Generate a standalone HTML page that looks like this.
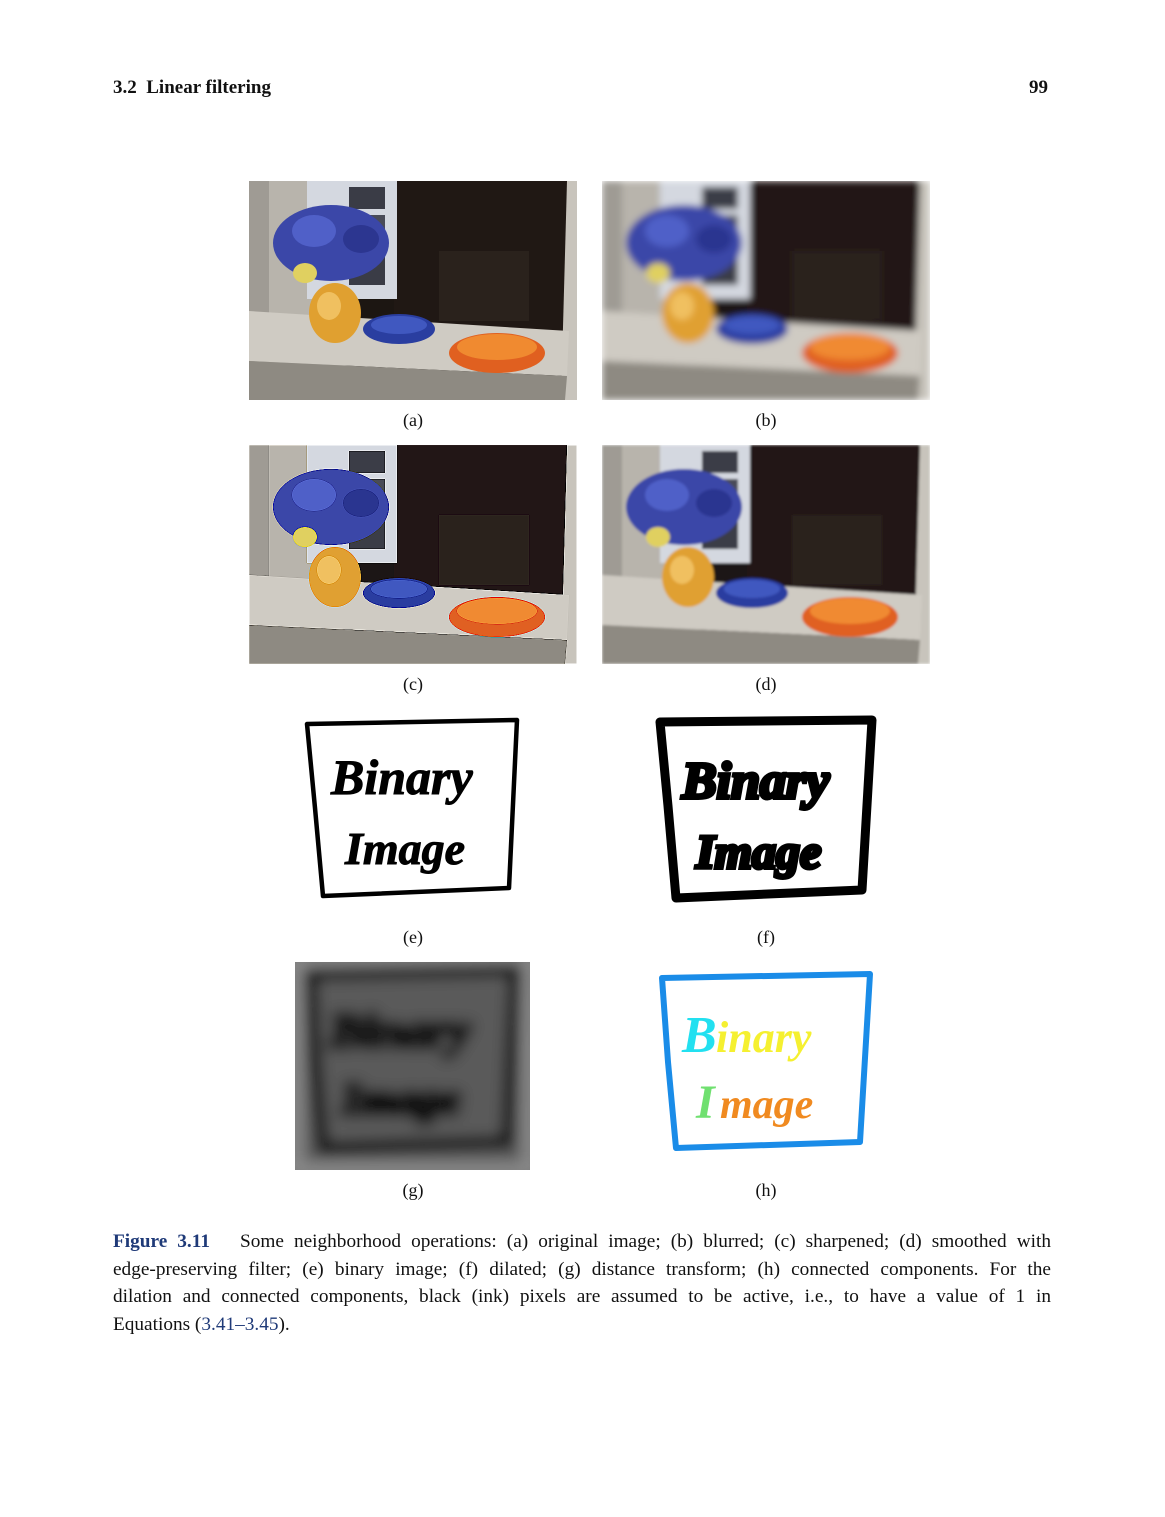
<!DOCTYPE html>
<html><head><meta charset="utf-8">
<style>
html,body{margin:0;padding:0;background:#fff;}
body{width:1165px;height:1517px;position:relative;font-family:"Liberation Serif",serif;color:#111;overflow:hidden;}
.abs{position:absolute;}
.lbl{position:absolute;font-size:18px;width:60px;text-align:center;}
.cap{position:absolute;left:113px;width:938px;font-size:19.3px;line-height:27.7px;top:1228px;}
.cap div{text-align:justify;text-align-last:justify;white-space:nowrap;}
.cap div.last{text-align-last:left;}
.blue{color:#1f3a78;}
</style></head>
<body>
<div class="abs" style="left:113px;top:77px;font-size:19px;font-weight:bold;">3.2&nbsp; Linear filtering</div>
<div class="abs" style="left:1029px;top:77px;font-size:19px;font-weight:bold;">99</div>

<svg width="0" height="0" style="position:absolute">
<defs>
<filter id="blur"><feGaussianBlur stdDeviation="3.5"/></filter>
<filter id="smooth"><feGaussianBlur stdDeviation="1.2"/></filter>
<filter id="sharp"><feConvolveMatrix order="3" kernelMatrix="0 -1 0 -1 5 -1 0 -1 0"/></filter>
<filter id="dt"><feGaussianBlur stdDeviation="7"/></filter>
</defs></svg>

<div class="abs" style="left:249px;top:181px;" id="pa"></div>
<div class="abs" style="left:602px;top:181px;" id="pb"></div>
<div class="abs" style="left:249px;top:445px;" id="pc"></div>
<div class="abs" style="left:602px;top:445px;" id="pd"></div>

<div class="lbl" style="left:383px;top:410px;">(a)</div>
<div class="lbl" style="left:736px;top:410px;">(b)</div>
<div class="lbl" style="left:383px;top:674px;">(c)</div>
<div class="lbl" style="left:736px;top:674px;">(d)</div>

<svg class="abs" style="left:295px;top:712px" width="240" height="200">
<path d="M12 12 L222 8 L214 176 L28 184 L20 96 Z" fill="none" stroke="#000" stroke-width="4.5" stroke-linejoin="round"/>
<text x="36" y="82" font-family="Liberation Serif" font-style="italic" font-weight="bold" font-size="50" fill="#000" stroke="#000" stroke-width="1">Binary</text>
<text x="50" y="152" font-family="Liberation Serif" font-style="italic" font-weight="bold" font-size="46" fill="#000" stroke="#000" stroke-width="1">Image</text>
</svg>
<svg class="abs" style="left:648px;top:710px" width="240" height="200">
<path d="M12 12 L224 10 L214 180 L28 188 L20 96 Z" fill="none" stroke="#000" stroke-width="9" stroke-linejoin="round"/>
<text x="34" y="88" font-family="Liberation Serif" font-style="italic" font-weight="bold" font-size="52" fill="#000" stroke="#000" stroke-width="4">Binary</text>
<text x="48" y="158" font-family="Liberation Serif" font-style="italic" font-weight="bold" font-size="48" fill="#000" stroke="#000" stroke-width="4">Image</text>
</svg>
<div class="lbl" style="left:383px;top:927px;">(e)</div>
<div class="lbl" style="left:736px;top:927px;">(f)</div>

<svg class="abs" style="left:295px;top:962px" width="235" height="208">
<rect width="235" height="208" fill="#6a6a6a"/>
<g filter="url(#dt)">
<rect x="12" y="10" width="211" height="188" fill="#5a5a5a"/>
<rect width="235" height="208" fill="none" stroke="#8a8a8a" stroke-width="14"/>
<path d="M16 12 L220 8 L212 180 L28 186 L20 96 Z" fill="none" stroke="#000" stroke-width="12"/>
<text x="34" y="85" font-family="Liberation Serif" font-style="italic" font-weight="bold" font-size="50" fill="#000" stroke="#000" stroke-width="5">Binary</text>
<text x="46" y="152" font-family="Liberation Serif" font-style="italic" font-weight="bold" font-size="46" fill="#000" stroke="#000" stroke-width="5">Image</text>
</g>
</svg>
<svg class="abs" style="left:650px;top:966px" width="230" height="194">
<path d="M12 12 L220 8 L210 176 L26 182 L18 96 Z" fill="none" stroke="#1a8ce8" stroke-width="6" stroke-linejoin="round"/>
<text x="32" y="86" font-family="Liberation Serif" font-style="italic" font-weight="bold" font-size="52" fill="#22e0f0">B</text>
<text x="66" y="86" font-family="Liberation Serif" font-style="italic" font-weight="bold" font-size="44" fill="#f5f030">inary</text>
<text x="46" y="152" font-family="Liberation Serif" font-style="italic" font-weight="bold" font-size="48" fill="#70e070">I</text>
<text x="70" y="152" font-family="Liberation Serif" font-style="italic" font-weight="bold" font-size="42" fill="#f08a20">mage</text>
</svg>
<div class="lbl" style="left:383px;top:1180px;">(g)</div>
<div class="lbl" style="left:736px;top:1180px;">(h)</div>

<div class="cap">
<div><b class="blue">Figure 3.11</b>&nbsp;&nbsp; Some neighborhood operations: (a) original image; (b) blurred; (c) sharpened; (d) smoothed with</div>
<div>edge-preserving filter; (e) binary image; (f) dilated; (g) distance transform; (h) connected components. For the</div>
<div>dilation and connected components, black (ink) pixels are assumed to be active, i.e., to have a value of 1 in</div>
<div class="last">Equations (<span class="blue">3.41–3.45</span>).</div>
</div>

<script>
function scene(filter){
 return '<svg width="328" height="219" viewBox="0 0 328 219"><g'+(filter?' filter="url(#'+filter+')"':'')+'>'+
 '<rect width="328" height="219" fill="#1c1612"/>'+
 '<rect x="145" y="0" width="180" height="160" fill="#201814"/>'+
 '<rect x="190" y="70" width="90" height="70" fill="#2a221c"/>'+
 '<polygon points="318,0 328,0 328,219 312,219" fill="#c8c4bc"/>'+
 '<rect x="0" y="0" width="95" height="219" fill="#b8b4ac"/>'+
 '<rect x="0" y="0" width="20" height="219" fill="#9f9b94"/>'+
 '<rect x="58" y="0" width="90" height="118" fill="#d4d8e0"/>'+
 '<rect x="100" y="6" width="36" height="22" fill="#3a3c46"/>'+
 '<rect x="100" y="34" width="36" height="30" fill="#4a4c58"/>'+
 '<rect x="100" y="70" width="36" height="34" fill="#3a3c46"/>'+
 '<polygon points="0,130 320,150 318,195 0,180" fill="#cfcbc3"/>'+
 '<polygon points="0,180 318,195 316,219 0,219" fill="#8e8a82"/>'+
 '<ellipse cx="82" cy="62" rx="58" ry="38" fill="#3b47a8"/>'+
 '<ellipse cx="65" cy="50" rx="22" ry="16" fill="#5060c8"/>'+
 '<ellipse cx="112" cy="58" rx="18" ry="14" fill="#2c3690"/>'+
 '<ellipse cx="56" cy="92" rx="12" ry="10" fill="#e0d060"/>'+
 '<ellipse cx="86" cy="132" rx="26" ry="30" fill="#e0a030"/>'+
 '<ellipse cx="80" cy="125" rx="12" ry="14" fill="#f0c060"/>'+
 '<ellipse cx="150" cy="148" rx="36" ry="15" fill="#2a3ea0"/>'+
 '<ellipse cx="150" cy="144" rx="28" ry="9" fill="#4058c0"/>'+
 '<ellipse cx="248" cy="172" rx="48" ry="20" fill="#e06020"/>'+
 '<ellipse cx="248" cy="166" rx="40" ry="13" fill="#f08a30"/>'+
 '</g></svg>';
}
document.getElementById('pa').innerHTML=scene('');
document.getElementById('pb').innerHTML=scene('blur');
document.getElementById('pc').innerHTML=scene('sharp');
document.getElementById('pd').innerHTML=scene('smooth');
</script>
</body></html>
